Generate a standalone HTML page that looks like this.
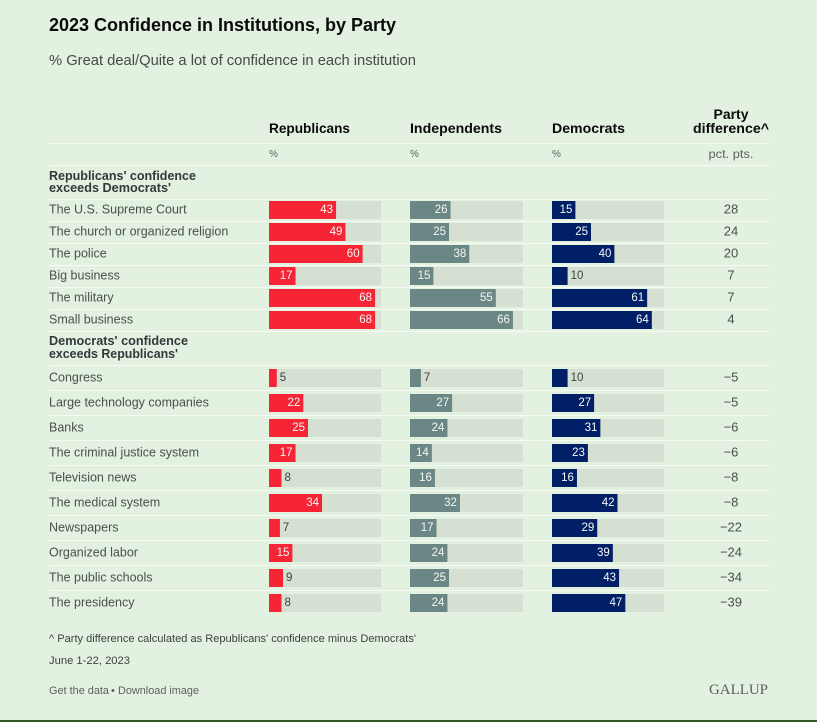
<!DOCTYPE html>
<html lang="en">
<head>
<meta charset="utf-8">
<title>2023 Confidence in Institutions, by Party</title>
<style>
html,body{margin:0;padding:0;background:#e3f1e1;}
body{width:817px;height:722px;overflow:hidden;}
svg{display:block;font-family:"Liberation Sans",sans-serif;}
</style>
</head>
<body>
<svg id="chart" width="817" height="722" viewBox="0 0 817 722" xmlns="http://www.w3.org/2000/svg">
  <rect x="0" y="0" width="817" height="722" fill="#e3f1e1"/>
  <rect x="0" y="720" width="817" height="2" fill="#2f5a26"/>
  <text x="49" y="31" font-size="18" font-weight="700" fill="#0a0a0a" textLength="347" lengthAdjust="spacingAndGlyphs">2023 Confidence in Institutions, by Party</text>
  <text x="49" y="65" font-size="14.5" fill="#454a45" textLength="367" lengthAdjust="spacingAndGlyphs">% Great deal/Quite a lot of confidence in each institution</text>

  <text x="269" y="133" font-size="13.5" font-weight="700" fill="#0a0a0a" textLength="81" lengthAdjust="spacingAndGlyphs">Republicans</text>
  <text x="410" y="133" font-size="13.5" font-weight="700" fill="#0a0a0a" textLength="92" lengthAdjust="spacingAndGlyphs">Independents</text>
  <text x="552" y="133" font-size="13.5" font-weight="700" fill="#0a0a0a" textLength="73" lengthAdjust="spacingAndGlyphs">Democrats</text>
  <text x="731" y="119" font-size="13.5" font-weight="700" fill="#0a0a0a" text-anchor="middle" textLength="35" lengthAdjust="spacingAndGlyphs">Party</text>
  <text x="731" y="133" font-size="13.5" font-weight="700" fill="#0a0a0a" text-anchor="middle" textLength="76" lengthAdjust="spacingAndGlyphs">difference^</text>

  <text x="269" y="157" font-size="10" fill="#5b625b">%</text>
  <text x="410" y="157" font-size="10" fill="#5b625b">%</text>
  <text x="552" y="157" font-size="10" fill="#5b625b">%</text>
  <text x="731" y="158" font-size="12" fill="#5b625b" text-anchor="middle" textLength="45" lengthAdjust="spacingAndGlyphs">pct. pts.</text>

  <text x="49" y="180" font-size="12.5" font-weight="700" fill="#33383a" textLength="147" lengthAdjust="spacingAndGlyphs">Republicans' confidence</text>
  <text x="49" y="192" font-size="12.5" font-weight="700" fill="#33383a" textLength="122" lengthAdjust="spacingAndGlyphs">exceeds Democrats'</text>
  <text x="49" y="345" font-size="12.5" font-weight="700" fill="#33383a" textLength="139" lengthAdjust="spacingAndGlyphs">Democrats' confidence</text>
  <text x="49" y="358" font-size="12.5" font-weight="700" fill="#33383a" textLength="129" lengthAdjust="spacingAndGlyphs">exceeds Republicans'</text>

  <g id="lines"></g>
  <g id="rows"></g>

  <text x="49" y="642" font-size="11" fill="#3c423c" textLength="367" lengthAdjust="spacingAndGlyphs">^ Party difference calculated as Republicans' confidence minus Democrats'</text>
  <text x="49" y="664" font-size="11" fill="#3c423c" textLength="81" lengthAdjust="spacingAndGlyphs">June 1-22, 2023</text>
  <text x="49" y="694" font-size="11" fill="#5b625b" textLength="60" lengthAdjust="spacingAndGlyphs">Get the data</text>
  <text x="111" y="694" font-size="11" fill="#5b625b">•</text>
  <text x="118" y="694" font-size="11" fill="#5b625b" textLength="81" lengthAdjust="spacingAndGlyphs">Download image</text>
  <text x="709" y="694" font-size="14.5" fill="#5a5f5a" font-family="'Liberation Serif',serif" textLength="59" lengthAdjust="spacingAndGlyphs">GALLUP</text>
</svg>
<script>
var institutions = ["The U.S. Supreme Court","The church or organized religion","The police","Big business","The military","Small business","Congress","Large technology companies","Banks","The criminal justice system","Television news","The medical system","Newspapers","Organized labor","The public schools","The presidency"];
var republicans = [43,49,60,17,68,68,5,22,25,17,8,34,7,15,9,8];
var independents = [26,25,38,15,55,66,7,27,24,14,16,32,17,24,25,24];
var democrats = [15,25,40,10,61,64,10,27,31,23,16,42,29,39,43,47];
var differenceLabels = ["28","24","20","7","7","4","\u22125","\u22125","\u22126","\u22126","\u22128","\u22128","\u221222","\u221224","\u221234","\u221239"];

var NS = "http://www.w3.org/2000/svg";
var rowsGroup = document.getElementById("rows");
var linesGroup = document.getElementById("lines");
var PX_PER_POINT = 1.56;
var TRACK_WIDTH = 112;
var FIRST_GROUP_SIZE = 6;

function xScale(value) { return value * PX_PER_POINT; }
function rowTop(index) {
  if (index < FIRST_GROUP_SIZE) { return 199 + index * 22; }
  return 365 + (index - FIRST_GROUP_SIZE) * 25;
}
function make(tag, attrs, parent) {
  var el = document.createElementNS(NS, tag);
  for (var k in attrs) { el.setAttribute(k, attrs[k]); }
  parent.appendChild(el);
  return el;
}

var separatorYs = [143, 165, 199, 221, 243, 265, 287, 309, 331, 365, 390, 415, 440, 465, 490, 515, 540, 565, 590];
separatorYs.forEach(function (y) {
  var sep = make("rect", { x: 49, y: y, width: 721, height: 1, fill: "#f6fbf4" }, linesGroup);
  
  
});

var panels = [
  { key: "republican", values: republicans, x: 269, trackWidth: 112, color: "#f52536" },
  { key: "independent", values: independents, x: 410, trackWidth: 113, color: "#6b8785" },
  { key: "democrat", values: democrats, x: 552, trackWidth: 112, color: "#001f66" }
];

institutions.forEach(function (name, i) {
  var top = rowTop(i);
  var barY = top + (i < FIRST_GROUP_SIZE ? 2 : 4);
  var mid = barY + 9;

  var label = make("text", { x: 49, y: mid + 3.5, "font-size": 12.5, fill: "#4a504a" }, rowsGroup);
  
  
  label.textContent = name;

  panels.forEach(function (p) {
    var track = make("rect", { x: p.x, y: barY, width: p.trackWidth, height: 18, fill: "#d5e0d3" }, rowsGroup);
    
    

    var v = p.values[i];
    var w = xScale(v);
    var bar = make("rect", { x: p.x, y: barY, width: w, height: 18, fill: p.color }, rowsGroup);
    
    

    var outside = v <= 10;
    var val = make("text", {
      x: outside ? p.x + w + 3 : p.x + w - 3,
      y: mid + 3,
      "font-size": 11.5,
      "text-anchor": outside ? "start" : "end",
      fill: outside ? "#3c423c" : "#f4f7f4"
    }, rowsGroup);
    
    
    val.textContent = v;
  });

  var diff = make("text", { x: 731, y: mid + 3.5, "font-size": 13, fill: "#4a504a", "text-anchor": "middle" }, rowsGroup);
  
  
  diff.textContent = differenceLabels[i];
});
</script>
</body>
</html>
